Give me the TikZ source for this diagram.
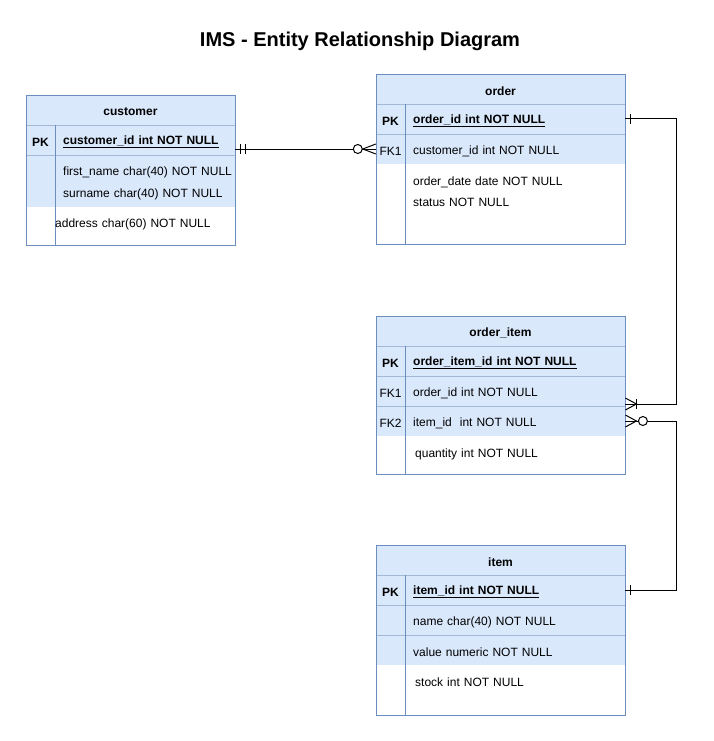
\documentclass[tikz,border=0pt]{standalone}
\usepackage{fontspec}
\setmainfont{Liberation Sans}
\usetikzlibrary{positioning, calc}
\definecolor{erfill}{HTML}{DAE8FC}
\definecolor{erline}{HTML}{6C8EBF}
\definecolor{ersep}{HTML}{A3B7D6}

\tikzset{
  hdr/.style={inner sep=0, yshift=-2, font=\bfseries\fontsize{12}{14}\selectfont},
  keycell/.style={minimum width=29, minimum height=30, inner sep=0, yshift=-2, font=\fontsize{12}{14}\selectfont},
  fld/.style={anchor=west, inner sep=0, minimum height=20, yshift=-2, text width=#1, align=left, font=\fontsize{12}{14}\selectfont},
  conn/.style={line width=1pt, black},
}

\begin{document}
\begin{tikzpicture}[x=1pt,y=-1pt]
\useasboundingbox (0,0) rectangle (713,741);
\node[font=\bfseries\fontsize{20}{24}\selectfont] (title) at (360,41.5) {IMS - Entity Relationship Diagram};

% customer
\fill[erfill] (26,95) rectangle (235,207);
\foreach \y in {125,155} \draw[ersep] (26,\y) -- (235,\y);
\draw[erline] (55,125) -- (55,245);
\draw[erline, line width=0.8pt] (26,95) rectangle (235,245);
\node[hdr] (custHead) at (130.5,110) {customer};
\node[keycell, font=\bfseries\fontsize{12}{14}\selectfont] (custPKk) at (40.5,140) {PK};
\node[fld=172, font=\bfseries\fontsize{12}{14}\selectfont] (custPK) at (63,140) {\underline{customer\_id int NOT NULL}};
\node[fld=172] (custFirst) at (63,170) {first\_name char(40) NOT NULL};
\node[fld=172] (custSur) at (63,192) {surname char(40) NOT NULL};
\node[fld=180] (custAddr) at (55,222) {address char(60) NOT NULL};

% order
\fill[erfill] (376,74) rectangle (625,164);
\foreach \y in {104,134} \draw[ersep] (376,\y) -- (625,\y);
\draw[erline] (405,104) -- (405,244);
\draw[erline, line width=0.8pt] (376,74) rectangle (625,244);
\node[hdr] (ordHead) at (500.5,89) {order};
\node[keycell, font=\bfseries\fontsize{12}{14}\selectfont] (ordPKk) at (390.5,119) {PK};
\node[fld=212, font=\bfseries\fontsize{12}{14}\selectfont] (ordPK) at (413,119) {\underline{order\_id int NOT NULL}};
\node[keycell] (ordFKk) at (390.5,149) {FK1};
\node[fld=212] (ordFK) at (413,149) {customer\_id int NOT NULL};
\node[fld=212] (ordDate) at (413,180) {order\_date date NOT NULL};
\node[fld=212] (ordStatus) at (413,200) {status NOT NULL};

% order_item
\fill[erfill] (376,316) rectangle (625,436);
\foreach \y in {346,376,406} \draw[ersep] (376,\y) -- (625,\y);
\draw[erline] (405,346) -- (405,474);
\draw[erline, line width=0.8pt] (376,316) rectangle (625,474);
\node[hdr] (oiHead) at (500.5,331) {order\_item};
\node[keycell, font=\bfseries\fontsize{12}{14}\selectfont] (oiPKk) at (390.5,361) {PK};
\node[fld=212, font=\bfseries\fontsize{12}{14}\selectfont] (oiPK) at (413,361) {\underline{order\_item\_id int NOT NULL}};
\node[keycell] (oiFK1k) at (390.5,391) {FK1};
\node[fld=212] (oiFK1) at (413,391) {order\_id int NOT NULL};
\node[keycell] (oiFK2k) at (390.5,421) {FK2};
\node[fld=212] (oiFK2) at (413,421) {item\_id\ \ int NOT NULL};
\node[fld=210] (oiQty) at (415,452) {quantity int NOT NULL};

% item
\fill[erfill] (376,545) rectangle (625,665);
\foreach \y in {575,605,635} \draw[ersep] (376,\y) -- (625,\y);
\draw[erline] (405,575) -- (405,715);
\draw[erline, line width=0.8pt] (376,545) rectangle (625,715);
\node[hdr] (itHead) at (500.5,560) {item};
\node[keycell, font=\bfseries\fontsize{12}{14}\selectfont] (itPKk) at (390.5,590) {PK};
\node[fld=212, font=\bfseries\fontsize{12}{14}\selectfont] (itPK) at (413,590) {\underline{item\_id int NOT NULL}};
\node[fld=212] (itName) at (413,620) {name char(40) NOT NULL};
\node[fld=212] (itValue) at (413,650) {value numeric NOT NULL};
\node[fld=210] (itStock) at (415,680) {stock int NOT NULL};

% customer -- order
\coordinate (custEnd) at ([yshift=2]ordFKk.west -| custPK.east);
\draw[conn] (custEnd) -- ([yshift=2]ordFKk.west);
\draw[conn] ($(custEnd)+(5,-5)$) -- ++(0,10);
\draw[conn] ($(custEnd)+(10,-5)$) -- ++(0,10);
\draw[conn] ($([yshift=2]ordFKk.west)+(0,-5)$) -- ++(-13,5) -- ++(13,5);
\draw[conn, fill=white] ($([yshift=2]ordFKk.west)+(-18,0)$) circle (4.5);

% order -- order_item
\coordinate (ordOut) at ([yshift=2]ordPK.east);
\coordinate (oiIn) at ($([yshift=2]oiFK1.east)+(0,13)$);
\draw[conn] (ordOut) -- ++(51,0) |- (oiIn);
\draw[conn] ($(ordOut)+(5,-5)$) -- ++(0,10);
\draw[conn] ($(oiIn)+(0,-6)$) -- ++(11,6) -- ++(-11,6);
\draw[conn] ($(oiIn)+(11,-5)$) -- ++(0,10);

% item -- order_item
\coordinate (itOut) at ([yshift=2]itPK.east);
\coordinate (oiIn2) at ([yshift=2]oiFK2.east);
\draw[conn] (itOut) -- ++(51,0) |- (oiIn2);
\draw[conn] ($(itOut)+(5,-5)$) -- ++(0,10);
\draw[conn] ($(oiIn2)+(0,-6)$) -- ++(11,6) -- ++(-11,6);
\draw[conn, fill=white] ($(oiIn2)+(17.5,0)$) circle (4.5);
\end{tikzpicture}
\end{document}
